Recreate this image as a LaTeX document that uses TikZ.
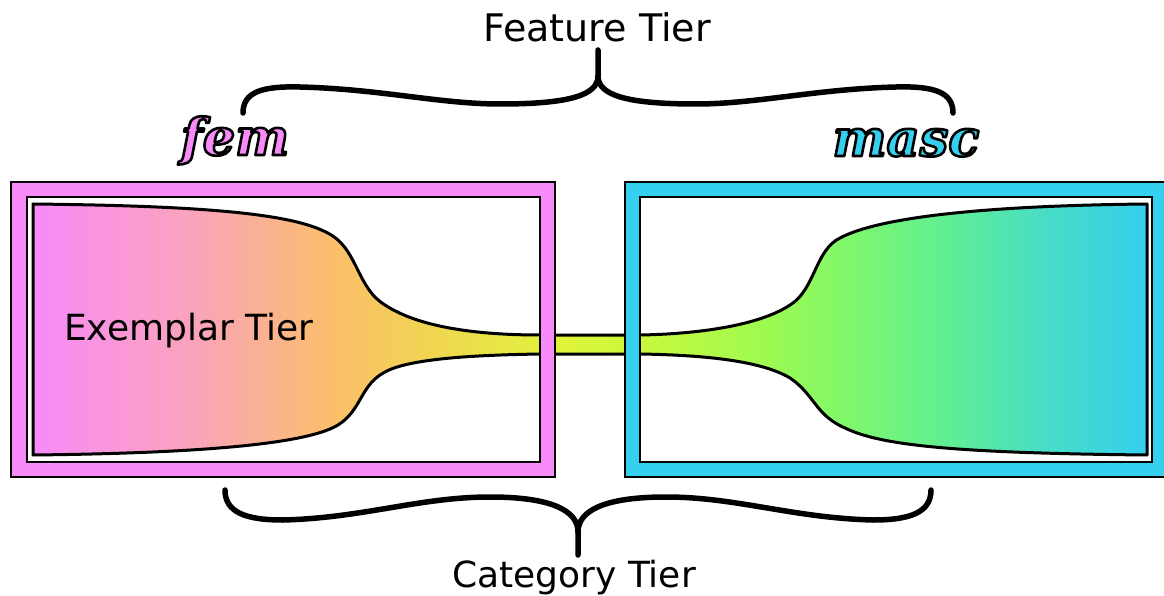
\documentclass[tikz,border=0pt]{standalone}
\usepackage{fontspec}
\setmainfont{DejaVu Sans}
\newfontfamily\genderfont{DejaVu Serif}

\definecolor{fempink}{HTML}{F98AF9}
\definecolor{masccyan}{HTML}{35D0F0}
\definecolor{g0}{HTML}{F98AF9}
\definecolor{g1}{HTML}{FAA5B8}
\definecolor{g2}{HTML}{FBBE6C}
\definecolor{g3}{HTML}{EFD94C}
\definecolor{g4}{HTML}{E0F53A}
\definecolor{g5}{HTML}{C8F83C}
\definecolor{g6}{HTML}{A0FA50}
\definecolor{g7}{HTML}{82F868}
\definecolor{g8}{HTML}{5EEE96}
\definecolor{g9}{HTML}{47DCC8}
\definecolor{g10}{HTML}{35CFEE}

% left-to-right colour ramp for the exemplar funnel
\pgfdeclarehorizontalshading{tierramp}{100bp}{%
  color(0bp)=(g0); color(25bp)=(g0); color(32.5bp)=(g1); color(38.3bp)=(g2);
  color(43.7bp)=(g3); color(48.7bp)=(g4); color(52.2bp)=(g5); color(57.6bp)=(g6);
  color(61.2bp)=(g7); color(66.2bp)=(g8); color(70.6bp)=(g9); color(75bp)=(g10);
  color(100bp)=(g10)}

% filled text with a black outline (PDF text render mode 2)
\newcommand{\outlined}[2]{{\color{#1}%
  \special{pdf:literal direct 2 Tr 2.6 w 1 j 0 G}#2\special{pdf:literal direct 0 Tr}}}

\tikzset{
  tierlabel/.style={font=\fontsize{36}{40}\selectfont, inner sep=0pt},
  gender/.style={font=\genderfont\bfseries\itshape\fontsize{51}{55}\selectfont, inner sep=0pt},
  brace/.style={line width=5.5pt, line cap=round, line join=round},
  frameline/.style={line width=1.6pt},
  funnel/.style={line width=3pt, line join=round, shading=tierramp}
}

\begin{document}
\begin{tikzpicture}[x=1pt,y=-1pt]
\useasboundingbox (0,0) rectangle (1164,596);

% exemplar funnel running through both category boxes
\path[funnel, draw=black]
  (33,204) .. controls (220,206) and (310,215) .. (338,240)
  .. controls (358,258) and (360,290) .. (385,305)
  .. controls (420,328) and (480,335) .. (540,335)
  -- (640,335)
  .. controls (700,334) and (760,325) .. (790,305)
  .. controls (815,290) and (815,250) .. (840,238)
  .. controls (870,222) and (950,206) .. (1147,204)
  -- (1147,455)
  .. controls (950,453) and (880,445) .. (845,428)
  .. controls (815,415) and (815,395) .. (790,378)
  .. controls (760,360) and (700,355) .. (640,354)
  -- (540,354)
  .. controls (480,355) and (410,358) .. (385,372)
  .. controls (360,385) and (362,410) .. (338,425)
  .. controls (310,442) and (220,453) .. (33,455)
  -- cycle;

% category frames
\fill[fempink, even odd rule] (11,182) rectangle (555,477) (27,197) rectangle (540,462);
\draw[frameline] (11,182) rectangle (555,477);
\draw[frameline] (27,197) rectangle (540,462);

\fill[masccyan, even odd rule] (625,182) rectangle (1172,477) (640,197) rectangle (1152,462);
\draw[frameline] (625,182) rectangle (1172,477);
\draw[frameline] (640,197) rectangle (1152,462);

% labels
\node[tierlabel, anchor=base west] (exemplar) at (64,340) {Exemplar Tier};
\node[tierlabel, anchor=base, font=\fontsize{38}{42}\selectfont] (feature) at (597,42) {Feature Tier};
\node[tierlabel, anchor=base] (category) at (574,587) {Category Tier};

\node[gender, anchor=base] (fem) at (235,155) {\outlined{fempink}{fem}};
\node[gender, anchor=base] (masc) at (906,156) {\outlined{masccyan}{masc}};

% braces
\coordinate (ftip) at (598,50);
\coordinate (ctip) at (578,555);
\draw[brace] (243,113) .. controls (243,92) and (262,86) .. (300,87)
  .. controls (380,89) and (440,104) .. (500,104)
  .. controls (570,104) and (598,95) .. (598,76) -- (ftip);
\draw[brace] (953,113) .. controls (953,92) and (934,86) .. (896,87)
  .. controls (816,89) and (756,104) .. (696,104)
  .. controls (626,104) and (598,95) .. (598,76);

\draw[brace] (225,490) .. controls (225,512) and (245,520) .. (283,520)
  .. controls (363,518) and (420,497) .. (490,497)
  .. controls (550,497) and (578,510) .. (578,532) -- (ctip);
\draw[brace] (931,490) .. controls (931,512) and (911,520) .. (873,520)
  .. controls (793,518) and (736,497) .. (666,497)
  .. controls (606,497) and (578,510) .. (578,532);
\end{tikzpicture}
\end{document}
